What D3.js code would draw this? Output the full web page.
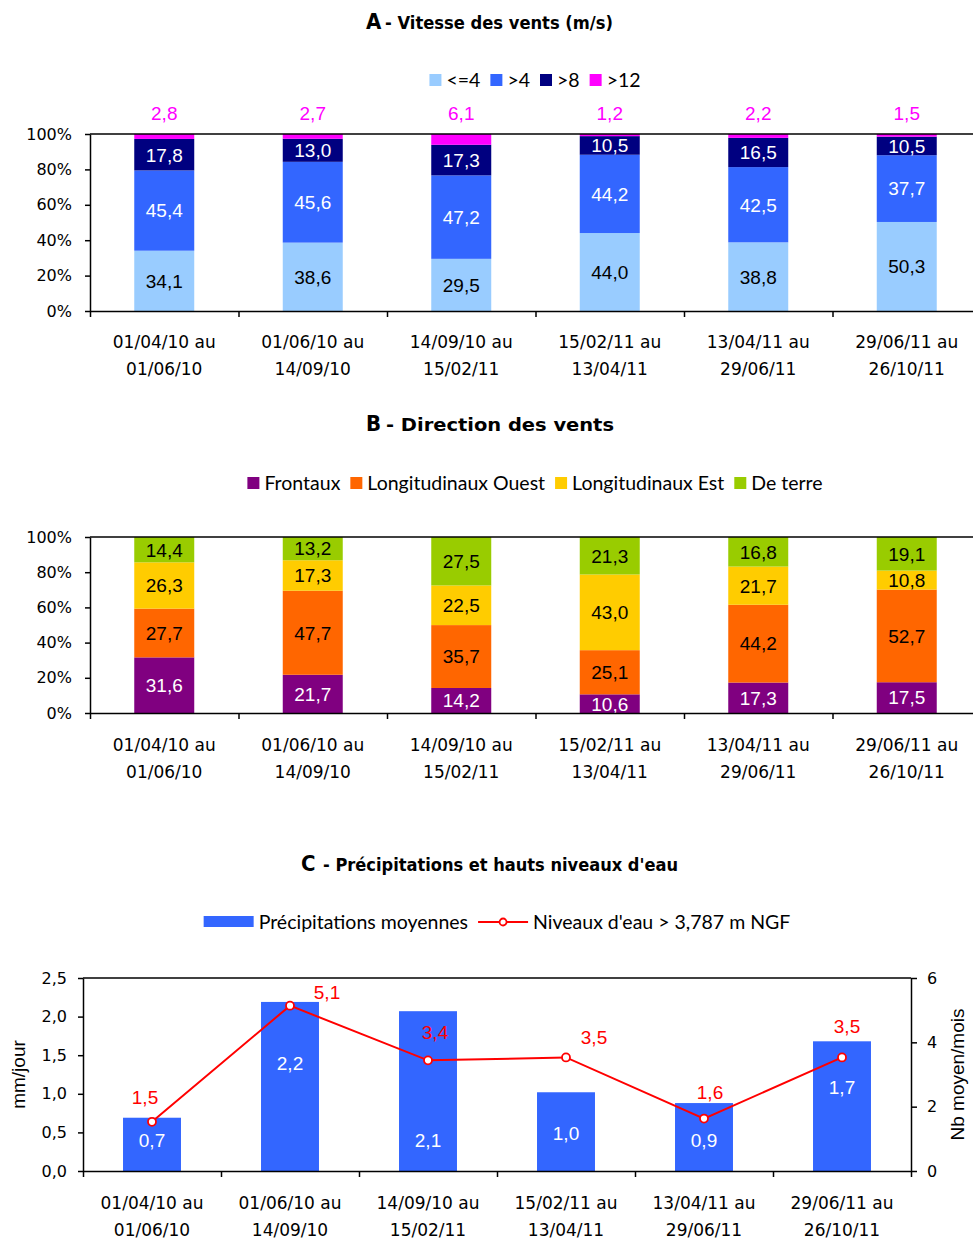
<!DOCTYPE html>
<html lang="fr">
<head>
<meta charset="UTF-8">
<title>Vents et précipitations</title>
<script src="https://cdn.jsdelivr.net/npm/d3@7"></script>
<style>
    body { margin: 0; background: #fff; }
    svg { display: block; }
</style>
</head>
<body>
<script>
    // périodes (axe des x commun aux trois graphiques)
    var periodes = ["01/04/10 au 01/06/10", "01/06/10 au 14/09/10", "14/09/10 au 15/02/11",
                    "15/02/11 au 13/04/11", "13/04/11 au 29/06/11", "29/06/11 au 26/10/11"];

    // A - vitesse des vents (%)
    var vitesseClasses = ["<=4", ">4", ">8", ">12"];
    var vitInf4  = [34.1, 38.6, 29.5, 44.0, 38.8, 50.3];
    var vitSup4  = [45.4, 45.6, 47.2, 44.2, 42.5, 37.7];
    var vitSup8  = [17.8, 13.0, 17.3, 10.5, 16.5, 10.5];
    var vitSup12 = [2.8, 2.7, 6.1, 1.2, 2.2, 1.5];

    // B - direction des vents (%)
    var directionClasses = ["Frontaux", "Longitudinaux Ouest", "Longitudinaux Est", "De terre"];
    var frontaux  = [31.6, 21.7, 14.2, 10.6, 17.3, 17.5];
    var longOuest = [27.7, 47.7, 35.7, 25.1, 44.2, 52.7];
    var longEst   = [26.3, 17.3, 22.5, 43.0, 21.7, 10.8];
    var deTerre   = [14.4, 13.2, 27.5, 21.3, 16.8, 19.1];

    // C - précipitations (mm/jour) et niveaux d'eau (nb moyen / mois)
    var precipLabel = "Précipitations moyennes";
    var niveauLabel = "Niveaux d'eau > 3,787 m NGF";
    var precipitations = [0.69, 2.19, 2.07, 1.02, 0.88, 1.68];
    var niveauxEau     = [1.53, 5.14, 3.44, 3.53, 1.63, 3.53];

    // graduations
    var pctTicks = [0, 0.2, 0.4, 0.6, 0.8, 1];
    var mmTicks  = [0, 0.5, 1, 1.5, 2, 2.5];
    var nbTicks  = [0, 2, 4, 6];

    var width = 973, height = 1239;
    var fr = d3.formatLocale({decimal: ",", thousands: " ", grouping: [3], currency: ["", " €"]});
    var f1 = fr.format(".1f");

    var tickFont = "'DejaVu Sans', Verdana, sans-serif";
    var labelFont = "'Liberation Sans', Arial, sans-serif";
    var legendFont = "Lato, 'Noto Sans', sans-serif";
    var titleFont = "'Liberation Sans Narrow', 'DejaVu Sans Condensed', 'Liberation Sans', sans-serif";

    var svg = d3.select("body").append("svg")
        .attr("width", width)
        .attr("height", height)
        .style("background", "#fff");

    // titre : grosse lettre + reste du texte compressé
    function titre(lettre, xL, xT, lenT, base, texte) {
        svg.append("text")
            .attr("x", xL).attr("y", base)
            .attr("font-family", titleFont).attr("font-weight", "bold")
            .attr("font-size", 22)
            .text(lettre);
        svg.append("text")
            .attr("x", xT).attr("y", base)
            .attr("font-family", titleFont).attr("font-weight", "bold")
            .attr("font-size", 17)
            .attr("textLength", lenT).attr("lengthAdjust", "spacingAndGlyphs")
            .text(texte);
    }

    // légende centrée ; items = [{label, color, type}]
    function legende(items, cx, cy) {
        var g = svg.append("g");
        var x = 0;
        items.forEach(function (it, i) {
            var sw = it.type === "line" ? 50 : (it.type === "wide" ? 50 : 12);
            if (it.type === "line") {
                g.append("line").attr("x1", x).attr("x2", x + sw).attr("y1", 0).attr("y2", 0)
                    .attr("stroke", it.color).attr("stroke-width", 2);
                g.append("circle").attr("cx", x + sw / 2).attr("cy", 0).attr("r", 3.5)
                    .attr("fill", "#fff").attr("stroke", it.color).attr("stroke-width", 1.8);
            } else if (it.type === "wide") {
                g.append("rect").attr("x", x).attr("y", -6).attr("width", sw).attr("height", 11)
                    .attr("fill", it.color);
            } else {
                g.append("rect").attr("x", x).attr("y", -6).attr("width", sw).attr("height", 12)
                    .attr("fill", it.color);
            }
            x += sw + 5;
            var t = g.append("text").attr("x", x).attr("y", 0).attr("dy", "0.35em")
                .attr("font-family", legendFont).attr("font-size", 19.5)
                .text(it.label);
            x += t.node().getComputedTextLength() + 10;
        });
        x -= 10;
        g.attr("transform", "translate(" + (cx - x / 2) + "," + cy + ")");
    }

    function styleAxis(g, size) {
        g.selectAll("text").attr("font-family", tickFont).attr("font-size", size).attr("fill", "#000");
        g.selectAll("line, path").attr("stroke", "#000").attr("stroke-width", 1.5);
    }

    // axe des x par catégories : traits aux limites, libellés sur deux lignes
    function axeCategories(x0, x1, yBase, xBand, labelY) {
        var xb = d3.scaleLinear().domain([0, periodes.length]).range([x0, x1]);
        var gx = svg.append("g").attr("transform", "translate(0," + yBase + ")")
            .call(d3.axisBottom(xb).tickValues(d3.range(periodes.length + 1)).tickFormat("").tickSize(6).tickSizeOuter(0));
        styleAxis(gx, 17);
        var lab = svg.append("g").selectAll("text").data(periodes).enter().append("text")
            .attr("x", function (d, i) { return xBand(i) + xBand.bandwidth() / 2; })
            .attr("y", labelY)
            .attr("text-anchor", "middle")
            .attr("font-family", tickFont).attr("font-size", 17);
        lab.append("tspan").attr("x", function (d, i) { return xBand(i) + xBand.bandwidth() / 2; })
            .text(function (d) { return d.split(" au ")[0] + " au"; });
        lab.append("tspan").attr("x", function (d, i) { return xBand(i) + xBand.bandwidth() / 2; })
            .attr("dy", 27)
            .text(function (d) { return d.split(" au ")[1]; });
    }

    // graphique empilé à 100 %
    function empile(series, keys, colors, textColors, top, bottom, labelY, topOutside) {
        var x0 = 90, step = 148.5;
        var x1 = x0 + step * periodes.length;
        var rows = periodes.map(function (p, i) {
            var r = {i: i};
            keys.forEach(function (k, j) { r[k] = series[j][i]; });
            return r;
        });
        var stack = d3.stack().keys(keys).offset(d3.stackOffsetExpand)(rows);

        var x = d3.scaleBand().domain(d3.range(periodes.length)).range([x0, x1])
            .paddingInner(0.596).paddingOuter(0.298);
        var y = d3.scaleLinear().domain([0, 1]).range([bottom, top]);

        var layers = svg.append("g").selectAll("g").data(stack).enter().append("g")
            .attr("fill", function (d, j) { return colors[j]; });
        layers.selectAll("rect").data(function (d) { return d; }).enter().append("rect")
            .attr("x", function (d, i) { return x(i); })
            .attr("width", x.bandwidth())
            .attr("y", function (d) { return y(d[1]); })
            .attr("height", function (d) { return y(d[0]) - y(d[1]); });

        // étiquettes
        stack.forEach(function (layer, j) {
            var outside = topOutside && j === stack.length - 1;
            svg.append("g").selectAll("text").data(layer).enter().append("text")
                .attr("x", function (d, i) { return x(i) + x.bandwidth() / 2; })
                .attr("y", function (d) { return outside ? top - 21 : (y(d[0]) + y(d[1])) / 2; })
                .attr("dy", "0.36em")
                .attr("text-anchor", "middle")
                .attr("font-family", labelFont).attr("font-size", 19)
                .attr("fill", textColors[j])
                .text(function (d, i) { return f1(series[j][i]); });
        });

        // cadre du haut
        svg.append("line").attr("x1", x0).attr("x2", x1).attr("y1", top).attr("y2", top)
            .attr("stroke", "#000").attr("stroke-width", 1.5);

        var gy = svg.append("g").attr("transform", "translate(" + x0 + ",0)")
            .call(d3.axisLeft(y).tickValues(pctTicks).tickFormat(d3.format(".0%")).tickSize(5).tickSizeOuter(0).tickPadding(13));
        styleAxis(gy, 16);

        axeCategories(x0, x1, bottom, x, labelY);
    }

    // ---------------- A ----------------
    titre("A", 366, 385, 228, 28.5, "- Vitesse des vents (m/s)");
    legende(vitesseClasses.map(function (c, j) {
        return {label: c, color: ["#99CCFF", "#3366FF", "#000080", "#FF00FF"][j]};
    }), 535, 80);
    empile([vitInf4, vitSup4, vitSup8, vitSup12], vitesseClasses,
        ["#99CCFF", "#3366FF", "#000080", "#FF00FF"],
        ["#000", "#fff", "#fff", "#FF00FF"], 134, 311, 348, true);

    // ---------------- B ----------------
    titre("B", 366, 386, 228, 431, "- Direction des vents");
    legende(directionClasses.map(function (c, j) {
        return {label: c, color: ["#800080", "#FF6600", "#FFCC00", "#99CC00"][j]};
    }), 535, 483);
    empile([frontaux, longOuest, longEst, deTerre], directionClasses,
        ["#800080", "#FF6600", "#FFCC00", "#99CC00"],
        ["#fff", "#000", "#000", "#000"], 537, 713, 751, false);

    // ---------------- C ----------------
    titre("C", 301, 323, 355, 871, "- Précipitations et hauts niveaux d'eau");
    legende([{label: precipLabel, color: "#3366FF", type: "wide"},
             {label: niveauLabel, color: "#FF0000", type: "line"}], 497, 922);

    var cx0 = 83, cx1 = 911, cTop = 978, cBottom = 1171;
    var xc = d3.scaleBand().domain(d3.range(periodes.length)).range([cx0, cx1])
        .paddingInner(0.58).paddingOuter(0.29);
    var yL = d3.scaleLinear().domain([0, 2.5]).range([cBottom, cTop]);
    var yR = d3.scaleLinear().domain([0, 6]).range([cBottom, cTop]);

    svg.append("g").selectAll("rect").data(precipitations).enter().append("rect")
        .attr("x", function (d, i) { return xc(i); })
        .attr("width", xc.bandwidth())
        .attr("y", function (d) { return yL(d); })
        .attr("height", function (d) { return cBottom - yL(d); })
        .attr("fill", "#3366FF");

    // étiquettes des barres, déplacées comme sur l'original pour éviter la courbe
    var precipLift = [31, 108, 31, 38, 31, 84];
    svg.append("g").selectAll("text").data(precipitations).enter().append("text")
        .attr("x", function (d, i) { return xc(i) + xc.bandwidth() / 2; })
        .attr("y", function (d, i) { return cBottom - precipLift[i]; })
        .attr("dy", "0.36em")
        .attr("text-anchor", "middle")
        .attr("font-family", labelFont).attr("font-size", 19)
        .attr("fill", "#fff")
        .text(function (d) { return f1(d); });

    // cadre
    svg.append("line").attr("x1", cx0).attr("x2", cx1).attr("y1", cTop).attr("y2", cTop)
        .attr("stroke", "#000").attr("stroke-width", 1.5);

    var gyl = svg.append("g").attr("transform", "translate(" + cx0 + ",0)")
        .call(d3.axisLeft(yL).tickValues(mmTicks).tickFormat(fr.format(".1f")).tickSize(5).tickSizeOuter(0).tickPadding(11));
    styleAxis(gyl, 16);
    var gyr = svg.append("g").attr("transform", "translate(" + cx1 + ",0)")
        .call(d3.axisRight(yR).tickValues(nbTicks).tickFormat(d3.format("d")).tickSize(6).tickSizeOuter(0).tickPadding(10));
    styleAxis(gyr, 16);

    axeCategories(cx0, cx1, cBottom, xc, 1209);

    // courbe des niveaux d'eau
    var line = d3.line()
        .x(function (d, i) { return xc(i) + xc.bandwidth() / 2; })
        .y(function (d) { return yR(d); });
    svg.append("path").datum(niveauxEau)
        .attr("d", line)
        .attr("fill", "none")
        .attr("stroke", "#FF0000")
        .attr("stroke-width", 2);
    svg.append("g").selectAll("circle").data(niveauxEau).enter().append("circle")
        .attr("cx", function (d, i) { return xc(i) + xc.bandwidth() / 2; })
        .attr("cy", function (d) { return yR(d); })
        .attr("r", 4)
        .attr("fill", "#fff")
        .attr("stroke", "#FF0000")
        .attr("stroke-width", 1.8);

    var niveauNudge = [[-7, -25], [37, -14], [7, -28], [28, -20], [6, -26], [5, -31]];
    svg.append("g").selectAll("text").data(niveauxEau).enter().append("text")
        .attr("x", function (d, i) { return xc(i) + xc.bandwidth() / 2 + niveauNudge[i][0]; })
        .attr("y", function (d, i) { return yR(d) + niveauNudge[i][1]; })
        .attr("dy", "0.36em")
        .attr("text-anchor", "middle")
        .attr("font-family", labelFont).attr("font-size", 19)
        .attr("fill", "#FF0000")
        .text(function (d) { return f1(d); });

    // titres des axes
    svg.append("text")
        .attr("transform", "translate(25," + ((cTop + cBottom) / 2) + ") rotate(-90)")
        .attr("text-anchor", "middle")
        .attr("font-family", labelFont).attr("font-size", 19)
        .text("mm/jour");
    svg.append("text")
        .attr("transform", "translate(964," + ((cTop + cBottom) / 2) + ") rotate(-90)")
        .attr("text-anchor", "middle")
        .attr("font-family", labelFont).attr("font-size", 19)
        .text("Nb moyen/mois");
</script>
</body>
</html>
